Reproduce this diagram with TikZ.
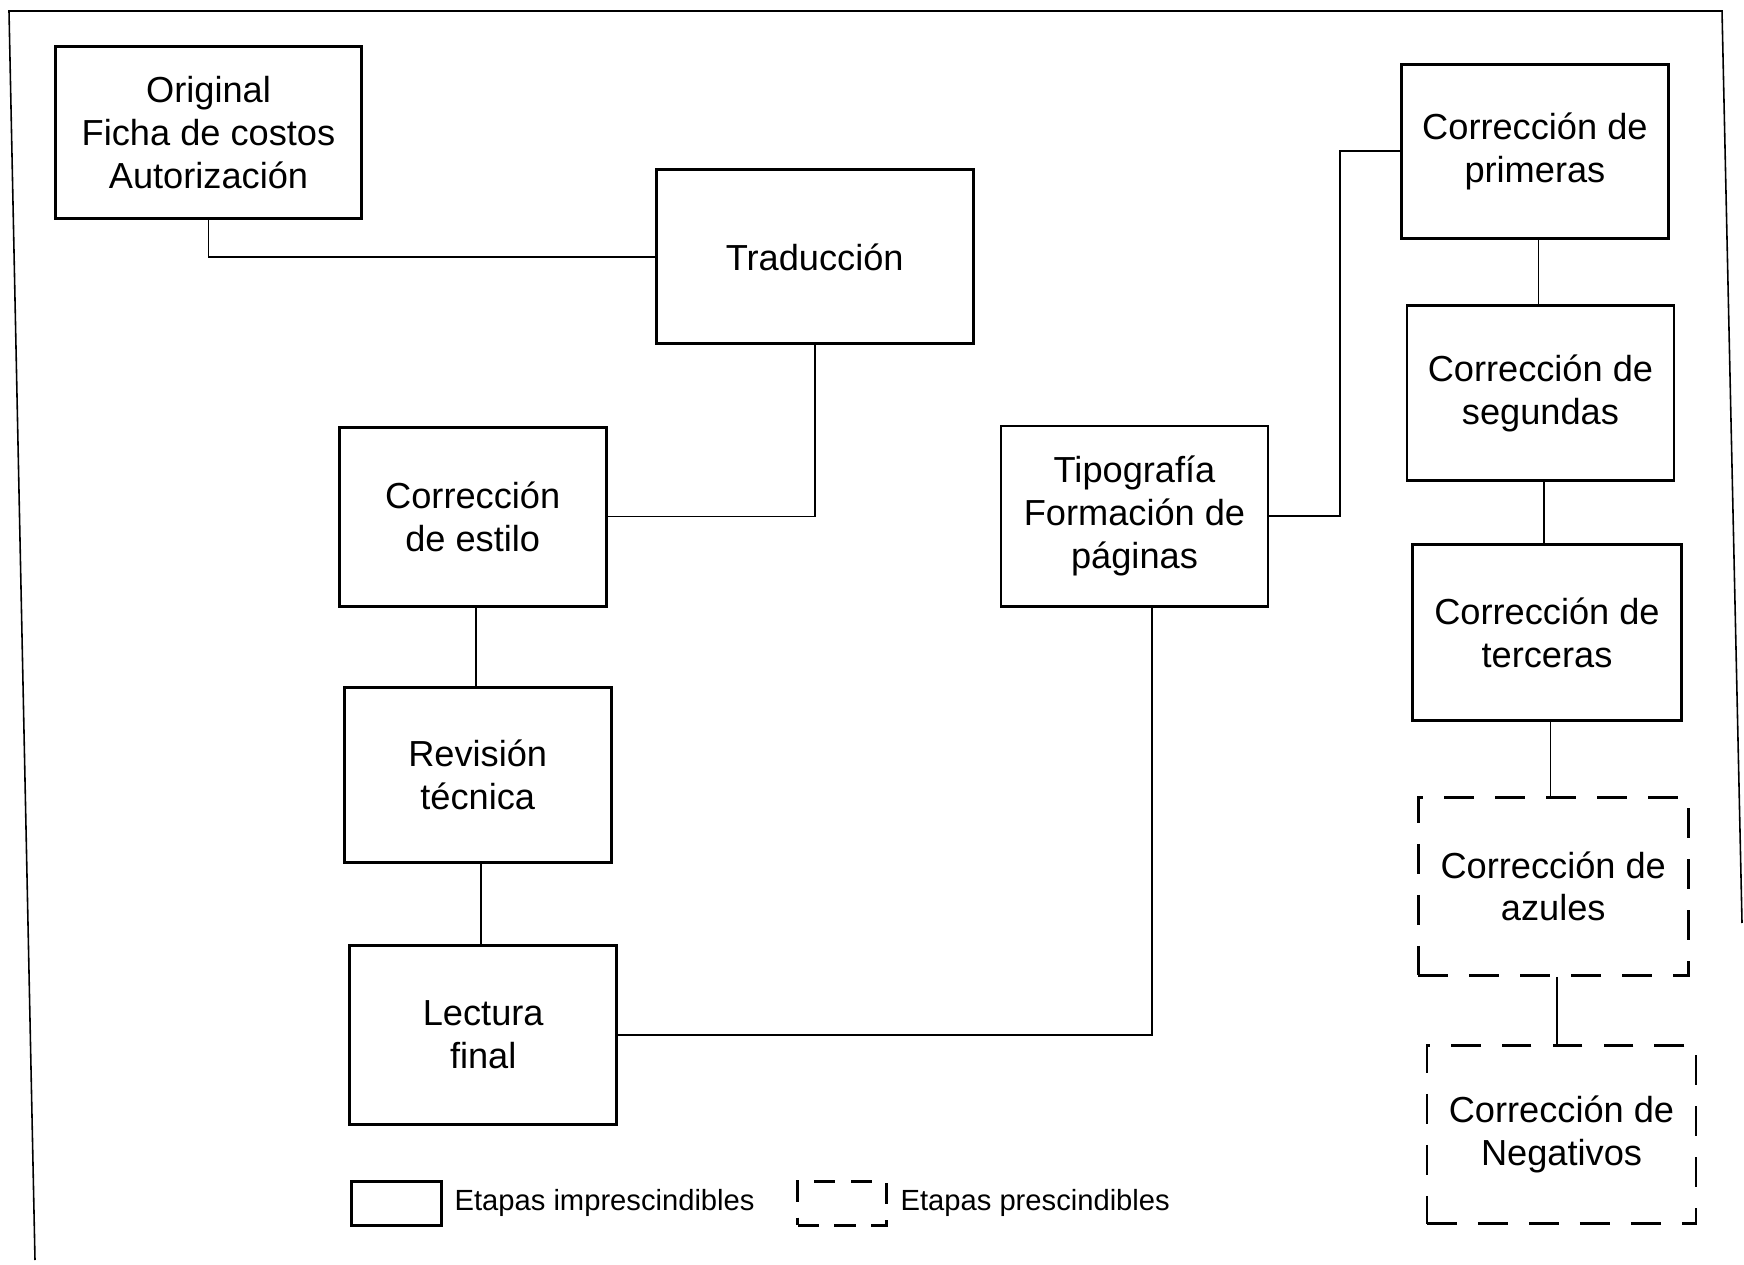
\documentclass[tikz,border=0pt]{standalone}
\usepackage{fontspec}
\setmainfont{Liberation Sans}
\usetikzlibrary{positioning}

\begin{document}
\begin{tikzpicture}[
  stage/.style={draw, line width=0.8pt, minimum width=2.67cm, minimum height=1.76cm,
    align=center, inner sep=0pt, font=\fontsize{10.3}{12.2}\selectfont},
  optstage/.style={stage, dash pattern=on 8.5pt off 6pt},
  link/.style={line width=0.45pt},
  legtext/.style={inner sep=0pt, font=\fontsize{8.3}{10}\selectfont}]
\useasboundingbox (0,0) rectangle (17.44,12.64);
% marco
\draw[link] (0.35,0.04) -- (0.09,12.53) -- (17.22,12.53) -- (17.42,3.41);

% columna izquierda
\node[stage, minimum width=3.06cm, minimum height=1.72cm] (orig) at (2.085,11.311)
  {Original\\Ficha de costos\\Autorizaci\'on};
\node[stage, minimum width=3.17cm, minimum height=1.74cm] (trad) at (8.147,10.071) {Traducci\'on};
\node[stage, minimum height=1.79cm] (estilo) at (4.727,7.474) {Correcci\'on\\de estilo};
\node[stage, minimum height=1.75cm] (revis) at (4.777,4.893) {Revisi\'on\\t\'ecnica};
\node[stage, minimum height=1.79cm] (lect) at (4.832,2.291) {Lectura\\final};
\node[stage, minimum height=1.80cm] (tipo) at (11.345,7.479) {Tipograf\'ia\\Formaci\'on de\\p\'aginas};

% columna derecha
\node[stage, minimum height=1.74cm] (prim) at (15.349,11.127) {Correcci\'on de\\primeras};
\node[stage, minimum height=1.75cm] (seg) at (15.404,8.708) {Correcci\'on de\\segundas};
\node[stage, minimum width=2.69cm] (terc) at (15.47,6.311) {Correcci\'on de\\terceras};
\node[optstage, minimum width=2.70cm, minimum height=1.78cm] (azul) at (15.532,3.776) {Correcci\'on de\\azules};
\node[optstage, minimum width=2.69cm, minimum height=1.78cm] (neg) at (15.615,1.295) {Correcci\'on de\\Negativos};

% conexiones
\draw[link] (orig.south) |- (trad.west);
\draw[link] (trad.south) |- (estilo.east);
\foreach \a/\b in {estilo/revis, revis/lect, prim/seg, seg/terc, terc/azul, azul/neg}
  \draw[link] ([xshift=1pt]\a.south) -- ([xshift=1pt]\a.south |- \b.north);
\draw[link] (lect.east) -| ([xshift=5pt]tipo.south);
\coordinate (bend) at (13.40,0);
\draw[link] (tipo.east) -| (bend |- prim.west) -- (prim.west);

% leyenda
\node[stage, minimum width=0.9cm, minimum height=0.44cm] (legfix) at (3.965,0.606) {};
\node[legtext, right=0.11 of legfix] (legfixtxt) {Etapas imprescindibles};
\node[optstage, minimum width=0.89cm, minimum height=0.44cm, dash pattern=on 6pt off 4.5pt] (legopt) at (8.42,0.606) {};
\node[legtext, right=0.12 of legopt] (legopttxt) {Etapas prescindibles};
\end{tikzpicture}
\end{document}
